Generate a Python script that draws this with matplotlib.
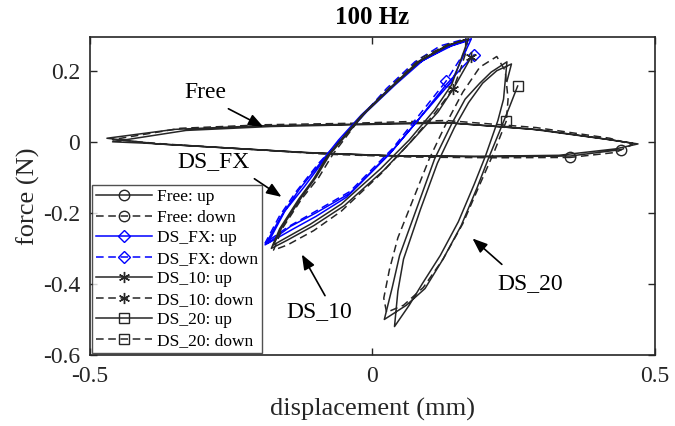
import matplotlib
matplotlib.use("Agg")
import matplotlib.pyplot as plt

plt.rcParams["font.family"] = ["Liberation Serif", "DejaVu Serif"]

# --- data (displacement in mm, force in N) ---
free_up_x = [0.44, 0.35, 0.20, 0.05, -0.10, -0.25, -0.38, -0.47, -0.35, -0.20, -0.05, 0.12, 0.28, 0.41, 0.47,
             0.43, 0.33, 0.18, 0.03, -0.12, -0.27, -0.40, -0.46, -0.33, -0.18, -0.03, 0.14, 0.30, 0.42, 0.46]
free_up_y = [-0.022, -0.040, -0.042, -0.040, -0.032, -0.018, -0.006, 0.010, 0.035, 0.045, 0.049, 0.055, 0.036, 0.008, -0.006,
             -0.020, -0.038, -0.041, -0.039, -0.030, -0.016, -0.004, 0.000, 0.032, 0.043, 0.048, 0.053, 0.033, 0.006, -0.004]
free_down_x = [0.35, 0.22, 0.07, -0.08, -0.23, -0.37, -0.46, -0.34, -0.19, -0.04, 0.13, 0.29, 0.42, 0.46, 0.43, 0.35]
free_down_y = [-0.044, -0.045, -0.043, -0.035, -0.020, -0.006, 0.006, 0.038, 0.048, 0.052, 0.060, 0.040, 0.010, -0.008, -0.030, -0.044]

fx_up_x = [0.18, 0.13, 0.075, 0.03, -0.045, -0.10, -0.14, -0.19, -0.16, -0.13, -0.09, -0.06, -0.02, 0.03, 0.08, 0.13, 0.175,
           0.14, 0.08, 0.035, -0.04, -0.10, -0.145, -0.185, -0.155, -0.12, -0.085, -0.05, -0.01, 0.04, 0.09, 0.14, 0.17]
fx_up_y = [0.245, 0.160, 0.050, -0.035, -0.155, -0.210, -0.245, -0.290, -0.205, -0.135, -0.055, 0.005, 0.075, 0.150, 0.220, 0.265, 0.290,
           0.170, 0.060, -0.025, -0.145, -0.200, -0.238, -0.285, -0.195, -0.125, -0.050, 0.015, 0.085, 0.160, 0.230, 0.270, 0.285]
fx_down_x = [0.13, 0.08, 0.035, -0.04, -0.10, -0.15, -0.19, -0.165, -0.135, -0.095, -0.06, -0.02, 0.025, 0.075, 0.12, 0.165, 0.17, 0.15, 0.13]
fx_down_y = [0.170, 0.070, -0.020, -0.140, -0.195, -0.240, -0.285, -0.210, -0.140, -0.060, 0.000, 0.070, 0.150, 0.225, 0.270, 0.290, 0.270, 0.220, 0.170]

ds10_up_x = [0.175, 0.143, 0.116, 0.068, 0.02, -0.05, -0.104, -0.152, -0.179, -0.164, -0.13, -0.104, -0.08, -0.02, 0.03, 0.08, 0.13, 0.17,
             0.14, 0.11, 0.065, 0.015, -0.055, -0.11, -0.155, -0.175, -0.16, -0.125, -0.10, -0.075, -0.015, 0.035, 0.085, 0.135, 0.165]
ds10_up_y = [0.239, 0.149, 0.084, 0.000, -0.080, -0.180, -0.236, -0.278, -0.300, -0.244, -0.160, -0.104, -0.040, 0.073, 0.150, 0.225, 0.270, 0.290,
             0.160, 0.090, 0.005, -0.075, -0.175, -0.232, -0.272, -0.290, -0.240, -0.155, -0.100, -0.035, 0.078, 0.155, 0.228, 0.272, 0.288]
ds10_down_x = [0.143, 0.11, 0.065, 0.015, -0.055, -0.104, -0.15, -0.175, -0.16, -0.125, -0.095, -0.07, -0.015, 0.035, 0.085, 0.135, 0.165, 0.165, 0.155, 0.143]
ds10_down_y = [0.149, 0.080, -0.005, -0.090, -0.195, -0.250, -0.290, -0.305, -0.245, -0.160, -0.100, -0.035, 0.080, 0.160, 0.235, 0.275, 0.285, 0.250, 0.200, 0.149]

ds20_up_x = [0.257, 0.243, 0.229, 0.205, 0.185, 0.157, 0.125, 0.093, 0.06, 0.021, 0.035, 0.048, 0.08, 0.11, 0.14, 0.164, 0.19, 0.21, 0.238,
             0.232, 0.222, 0.20, 0.18, 0.152, 0.12, 0.088, 0.065, 0.039, 0.045, 0.055, 0.085, 0.115, 0.145, 0.17, 0.195, 0.22, 0.246, 0.238]
ds20_up_y = [0.157, 0.100, 0.045, -0.048, -0.130, -0.236, -0.330, -0.413, -0.460, -0.500, -0.410, -0.320, -0.180, -0.048, 0.050, 0.120, 0.165, 0.196, 0.225,
             0.120, 0.060, -0.040, -0.120, -0.225, -0.320, -0.400, -0.460, -0.520, -0.420, -0.330, -0.190, -0.060, 0.040, 0.110, 0.165, 0.200, 0.219, 0.170]
ds20_down_x = [0.237, 0.215, 0.19, 0.16, 0.125, 0.09, 0.055, 0.025, 0.02, 0.03, 0.045, 0.075, 0.10, 0.13, 0.16, 0.19, 0.22, 0.235, 0.24, 0.237]
ds20_down_y = [0.059, -0.030, -0.120, -0.230, -0.330, -0.410, -0.460, -0.480, -0.440, -0.360, -0.270, -0.150, -0.050, 0.050, 0.140, 0.210, 0.240, 0.200, 0.120, 0.059]

x_ticks = [-0.5, 0, 0.5]
x_tick_labels = ["-0.5", "0", "0.5"]
y_ticks = [-0.6, -0.4, -0.2, 0, 0.2]
y_tick_labels = ["-0.6", "-0.4", "-0.2", "0", "0.2"]

dark = "#262626"
blue = "#0000ff"
asterisk = (6, 2, 0)

fig = plt.figure(figsize=(6.75, 4.26), dpi=100)
ax = fig.add_axes([0.1333, 0.1667, 0.8370, 0.7465])

series = [
    (free_up_x, free_up_y, dark, "-", "o", "Free: up"),
    (free_down_x, free_down_y, dark, "--", "o", "Free: down"),
    (fx_up_x, fx_up_y, blue, "-", "D", "DS_FX: up"),
    (fx_down_x, fx_down_y, blue, "--", "D", "DS_FX: down"),
    (ds10_up_x, ds10_up_y, dark, "-", asterisk, "DS_10: up"),
    (ds10_down_x, ds10_down_y, dark, "--", asterisk, "DS_10: down"),
    (ds20_up_x, ds20_up_y, dark, "-", "s", "DS_20: up"),
    (ds20_down_x, ds20_down_y, dark, "--", "s", "DS_20: down"),
]
for xs, ys, col, ls, mk, lab in series:
    ms = {"o": 7.5, "D": 6.5, "s": 7}.get(mk, 8) if isinstance(mk, str) else 8
    ax.plot(xs, ys, color=col, linestyle=ls, linewidth=1.1, marker=mk, markevery=[0],
            markersize=ms, markerfacecolor="none", markeredgecolor=col, markeredgewidth=1.0,
            dashes=(5, 3) if ls == "--" else (None, None), label=lab)

ax.set_xlim(-0.5, 0.5)
ax.set_ylim(-0.6, 0.295)
ax.set_xticks(x_ticks)
ax.set_xticklabels(x_tick_labels)
ax.set_yticks(y_ticks)
ax.set_yticklabels(y_tick_labels)
ax.tick_params(direction="in", length=5, width=1.0, top=True, right=True,
               labelsize=17, colors=dark)
ax.tick_params(axis="x", pad=8)
ax.tick_params(axis="y", pad=7)
for sp in ax.spines.values():
    sp.set_linewidth(1.2)
    sp.set_color(dark)

ax.set_xlabel("displacement (mm)", fontsize=19, color=dark, labelpad=8)
ax.set_ylabel("force (N)", fontsize=19, color=dark, labelpad=2)
ax.set_title("100 Hz", fontsize=18, fontweight="bold", pad=9)

# annotations with arrows
notes = [
    ("Free", (-0.295, 0.14), (-0.255, 0.093), (-0.193, 0.042)),
    ("DS_FX", (-0.282, -0.056), (-0.209, -0.104), (-0.161, -0.155)),
    ("DS_10", (-0.095, -0.478), (-0.084, -0.433), (-0.125, -0.317)),
    ("DS_20", (0.280, -0.400), (0.229, -0.345), (0.177, -0.272)),
]
for txt, pos, tail, head in notes:
    ax.text(pos[0], pos[1], txt, fontsize=17, ha="center", va="center")
    ax.annotate("", xy=head, xytext=tail,
                arrowprops=dict(arrowstyle="-|>,head_length=0.9,head_width=0.35",
                                color="black", lw=1.2, shrinkA=0, shrinkB=0))

leg = ax.legend(loc="lower left", fontsize=12.5, frameon=True, fancybox=False,
                edgecolor=dark, borderaxespad=0.1, handlelength=3.2, numpoints=1,
                labelspacing=0.25, handletextpad=0.3, borderpad=0.25)
leg.get_frame().set_linewidth(1.0)

fig.savefig("out.png", dpi=100)
